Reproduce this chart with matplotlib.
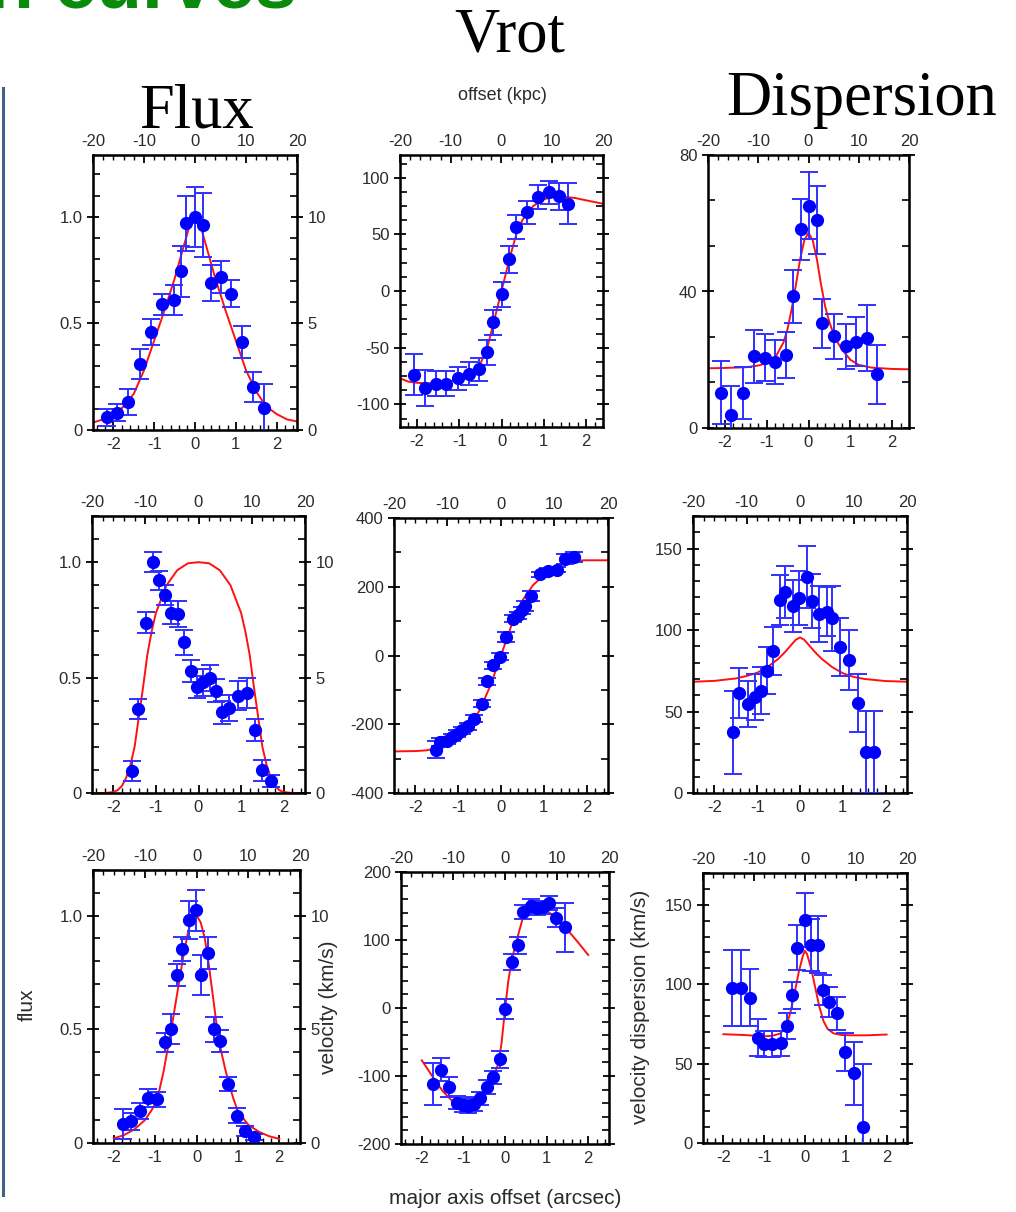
import matplotlib
matplotlib.use('Agg')
import matplotlib.pyplot as plt
from matplotlib.ticker import MultipleLocator, FixedLocator, FixedFormatter
from matplotlib.lines import Line2D

plt.rcParams['font.family'] = ['Liberation Sans', 'DejaVu Sans']
plt.rcParams['axes.unicode_minus'] = False

# ---------------- data: flux / rotation / dispersion profiles ----------------
# row 1
f1_x = [-2.16, -1.90, -1.63, -1.36, -1.08, -0.81, -0.52, -0.34, -0.22, 0.0, 0.19, 0.38, 0.64, 0.88, 1.14, 1.41, 1.70]
f1_y = [0.06, 0.08, 0.13, 0.31, 0.46, 0.59, 0.61, 0.745, 0.97, 1.0, 0.96, 0.69, 0.72, 0.64, 0.415, 0.20, 0.105]
f1_e = [0.04, 0.04, 0.06, 0.07, 0.06, 0.05, 0.07, 0.12, 0.13, 0.14, 0.15, 0.085, 0.075, 0.065, 0.075, 0.07, 0.11]
f1_mx = [-2.5, -2.25, -2.0, -1.75, -1.5, -1.25, -1.0, -0.75, -0.5, -0.25, -0.1, 0.0, 0.1, 0.25, 0.5, 0.75, 1.0, 1.25, 1.5, 1.75, 2.0, 2.25, 2.5]
f1_my = [0.035, 0.05, 0.07, 0.11, 0.17, 0.28, 0.42, 0.56, 0.71, 0.88, 0.98, 1.0, 0.98, 0.88, 0.71, 0.56, 0.42, 0.28, 0.18, 0.11, 0.075, 0.05, 0.04]

v1_x = [-2.08, -1.82, -1.55, -1.31, -1.04, -0.78, -0.53, -0.35, -0.20, 0.0, 0.18, 0.35, 0.61, 0.86, 1.12, 1.37, 1.57]
v1_y = [-74, -85.5, -82, -82, -77, -73, -69, -54, -27.5, -3, 28, 56.5, 69.5, 83, 87, 83.5, 77]
v1_e = [18, 16, 11, 11, 10, 10, 10, 11, 11, 11, 12, 11, 10, 10.5, 10.5, 12, 18]
v1_mx = [-2.4, -2.2, -2.0, -1.75, -1.5, -1.25, -1.0, -0.75, -0.5, -0.35, -0.2, -0.1, 0.0, 0.1, 0.2, 0.35, 0.5, 0.75, 1.0, 1.25, 1.5, 1.75, 2.0, 2.2, 2.4]
v1_my = [-77, -80, -81, -81.5, -81, -80, -78, -74, -64, -52, -30, -15, 0, 15, 30, 50, 63, 75, 81, 83, 83, 82, 80, 78.5, 77]

d1_x = [-2.10, -1.84, -1.56, -1.31, -1.05, -0.79, -0.53, -0.36, -0.18, 0.02, 0.20, 0.33, 0.60, 0.90, 1.13, 1.39, 1.64]
d1_y = [10.3, 3.7, 10.3, 21, 20.6, 19.3, 21.4, 38.6, 58.2, 65.2, 61, 30.7, 26.9, 23.9, 25.3, 26.3, 15.7]
d1_e = [9.2, 8.7, 7.7, 7.7, 6.8, 6.4, 6.7, 7.7, 9, 9.7, 9.9, 7.2, 6.6, 6.6, 7.1, 9.7, 8.7]
d1_mx = [-2.4, -2.0, -1.5, -1.2, -1.0, -0.8, -0.6, -0.5, -0.4, -0.3, -0.2, -0.1, 0.0, 0.1, 0.2, 0.3, 0.4, 0.5, 0.6, 0.7, 0.8, 0.9, 1.0, 1.2, 1.5, 2.0, 2.4]
d1_my = [17.5, 17.6, 17.8, 18.3, 19, 20.5, 25, 29, 35, 42, 49.5, 55, 57.2, 55, 49.5, 42, 35.5, 31, 27.5, 25, 23, 21.5, 20, 18.5, 17.7, 17.3, 17.2]

# row 2
f2_x = [-1.57, -1.42, -1.23, -1.06, -0.93, -0.78, -0.64, -0.48, -0.33, -0.18, -0.04, 0.11, 0.27, 0.41, 0.56, 0.71, 0.92, 1.13, 1.33, 1.49, 1.71]
f2_y = [0.095, 0.364, 0.738, 1.0, 0.921, 0.858, 0.781, 0.777, 0.652, 0.529, 0.46, 0.479, 0.498, 0.443, 0.35, 0.368, 0.422, 0.432, 0.273, 0.098, 0.052]
f2_e = [0.045, 0.045, 0.047, 0.043, 0.042, 0.043, 0.05, 0.056, 0.054, 0.047, 0.047, 0.058, 0.058, 0.05, 0.05, 0.058, 0.062, 0.065, 0.048, 0.045, 0.025]
f2_mx = [-2.5, -2.2, -2.0, -1.9, -1.8, -1.7, -1.6, -1.5, -1.4, -1.3, -1.2, -1.1, -1.0, -0.75, -0.5, -0.25, 0.0,
         0.25, 0.5, 0.75, 1.0, 1.1, 1.2, 1.3, 1.4, 1.5, 1.6, 1.7, 1.8, 1.9, 2.0, 2.2, 2.5]
f2_my = [0, 0, 0.004, 0.012, 0.03, 0.065, 0.12, 0.2, 0.33, 0.46, 0.6, 0.7, 0.78, 0.9, 0.965, 0.995, 1.0,
         0.995, 0.965, 0.9, 0.78, 0.7, 0.6, 0.46, 0.33, 0.2, 0.12, 0.065, 0.03, 0.012, 0.004, 0, 0]

v2_x = [-1.53, -1.42, -1.25, -1.14, -1.02, -0.91, -0.78, -0.62, -0.45, -0.32, -0.19, -0.02, 0.11, 0.27, 0.39, 0.49, 0.57, 0.70, 0.91, 1.10, 1.31, 1.50, 1.70]
v2_y = [-274, -251, -248, -238, -228, -218, -206, -184, -140, -75, -28, -4, 54, 107, 117, 131, 144, 173, 236, 246, 250, 280, 286]
v2_e = [24, 12, 10, 10, 10, 10, 10, 10, 10, 10, 10, 10, 15, 10, 10, 10, 15, 15, 8, 8, 8, 14, 14]
v2_mx = [-2.5, -2.25, -2.0, -1.75, -1.5, -1.25, -1.0, -0.75, -0.5, -0.25, 0.0, 0.25, 0.5, 0.75, 1.0, 1.25, 1.5, 1.75, 2.0, 2.25, 2.5]
v2_my = [-279, -278.5, -278, -276, -270, -253, -233, -205, -160, -88, 0, 90, 160, 205, 233, 253, 270, 276, 277, 277, 277]

d2_x = [-1.57, -1.43, -1.22, -1.05, -0.91, -0.78, -0.62, -0.47, -0.34, -0.17, -0.02, 0.16, 0.29, 0.45, 0.62, 0.74, 0.93, 1.14, 1.36, 1.55, 1.74]
d2_y = [37.3, 61.2, 54.7, 58.8, 62.9, 75.1, 87.3, 118.4, 123.5, 114.9, 119.6, 132.7, 118, 109.8, 111.2, 107.1, 89.4, 81.6, 55.1, 25.1, 25.1]
d2_e = [25.5, 15.3, 14.3, 14.3, 14.3, 14.5, 14.8, 15.3, 16, 15.8, 16.5, 19, 16.5, 17.3, 15, 20, 17.8, 18.4, 17.8, 25, 25]
d2_mx = [-2.5, -2.0, -1.5, -1.25, -1.0, -0.75, -0.5, -0.35, -0.2, -0.1, 0.0, 0.1, 0.2, 0.35, 0.5, 0.75, 1.0, 1.25, 1.5, 2.0, 2.5]
d2_my = [68.3, 68.8, 70.3, 71.8, 73.8, 77.5, 82.5, 86.5, 91, 94, 95.5, 94, 91, 86.5, 82.5, 77.3, 73.5, 71.3, 70, 68.7, 68.3]

# row 3
f3_x = [-1.78, -1.58, -1.37, -1.17, -0.95, -0.77, -0.62, -0.46, -0.34, -0.18, -0.02, 0.12, 0.28, 0.43, 0.57, 0.77, 0.97, 1.17, 1.39]
f3_y = [0.085, 0.095, 0.139, 0.198, 0.193, 0.442, 0.5, 0.739, 0.853, 0.981, 1.022, 0.739, 0.835, 0.5, 0.447, 0.261, 0.12, 0.051, 0.026]
f3_e = [0.066, 0.037, 0.035, 0.038, 0.033, 0.041, 0.066, 0.048, 0.054, 0.084, 0.088, 0.088, 0.07, 0.056, 0.048, 0.031, 0.033, 0.022, 0.015]
f3_mx = [-2.0, -1.75, -1.5, -1.25, -1.1, -1.0, -0.9, -0.8, -0.7, -0.6, -0.5, -0.4, -0.3, -0.2, -0.1, 0.0,
         0.1, 0.2, 0.3, 0.4, 0.5, 0.6, 0.7, 0.8, 0.9, 1.0, 1.25, 1.5, 1.75, 2.0]
f3_my = [0.02, 0.035, 0.06, 0.1, 0.14, 0.17, 0.23, 0.31, 0.41, 0.51, 0.62, 0.73, 0.84, 0.93, 0.985, 1.0,
         0.97, 0.9, 0.78, 0.64, 0.5, 0.4, 0.32, 0.25, 0.19, 0.14, 0.08, 0.05, 0.03, 0.018]

v3_x = [-1.73, -1.53, -1.35, -1.15, -1.0, -0.89, -0.74, -0.6, -0.44, -0.28, -0.12, 0.0, 0.16, 0.32, 0.44, 0.63, 0.77, 0.91, 1.05, 1.23, 1.45]
v3_y = [-112, -91, -116, -139, -143, -144, -141, -133, -116, -102, -75.5, -1.5, 68, 92, 141, 150, 147, 148, 154, 133, 119]
v3_e = [31, 17, 15, 10, 10, 10, 10, 10, 10, 10, 12, 15, 12, 12, 10, 10, 10, 10, 10, 14, 36]
v3_mx = [-2.0, -1.75, -1.5, -1.25, -1.0, -0.85, -0.7, -0.55, -0.4, -0.25, -0.15, -0.08, 0.0, 0.08, 0.16,
         0.25, 0.35, 0.45, 0.55, 0.75, 1.0, 1.25, 1.5, 1.75, 2.0]
v3_my = [-77, -100, -122, -138, -145, -145, -140, -128, -113, -97, -80, -50, -2, 40, 70,
         92, 115, 137, 144, 147, 143, 132, 115, 97, 78]

d3_x = [-1.80, -1.58, -1.36, -1.16, -1.0, -0.8, -0.59, -0.45, -0.33, -0.19, 0.0, 0.15, 0.33, 0.43, 0.59, 0.79, 0.99, 1.20, 1.41]
d3_y = [97.7, 97.7, 91.6, 66.3, 62.3, 62.3, 62.8, 73.6, 93.1, 123, 140.6, 124.5, 124.9, 96.2, 88.9, 81.6, 57.5, 43.9, 10]
d3_e = [24, 24, 18, 11.5, 8, 8, 8, 8, 8.5, 14, 17, 16.5, 17.8, 9.6, 9.4, 10.5, 12, 20, 40]
d3_mx = [-2.0, -1.5, -1.2, -1.0, -0.8, -0.6, -0.45, -0.35, -0.25, -0.15, -0.05, 0.0, 0.05, 0.15, 0.25,
         0.35, 0.45, 0.55, 0.7, 0.9, 1.2, 1.5, 2.0]
d3_my = [68.5, 68, 67.5, 67.2, 67.5, 69, 74, 83, 95, 108, 118, 121, 119, 110, 98,
         86, 77, 72, 69, 68, 67.8, 67.8, 68.3]

# tick labels
flux_ticks = [0, 0.5, 1.0]
flux_labels = ['0', '0.5', '1.0']
flux_right_labels = ['0', '5', '10']
arcsec_ticks = [-2, -1, 0, 1, 2]
kpc_ticks = [-20, -10, 0, 10, 20]

# ---------------- figure ----------------
W, H = 1016, 1212
fig = plt.figure(figsize=(W / 100, H / 100), dpi=100)
TXT = '#2b2b2b'
TICKFS = 12


def panel(box, xlim, ylim, yticks, ystep, x, y, err, mx, my, ylabels=None, right_labels=None):
    l, t, r, b = box
    ax = fig.add_axes([l / W, 1 - b / H, (r - l) / W, (b - t) / H])
    ax.plot(mx, my, color='#ff1010', lw=1.4, zorder=2)
    ax.errorbar(x, y, yerr=err, fmt='o', ms=8.5, mfc='#0000ff', mec='#0000ff',
                ecolor='#3030ff', elinewidth=1.4, capsize=6.5, capthick=1.4, zorder=3)
    ax.set_xlim(xlim)
    ax.set_ylim(ylim)
    for s in ax.spines.values():
        s.set_linewidth(1.8)

    ax.xaxis.set_major_locator(FixedLocator(arcsec_ticks))
    ax.xaxis.set_minor_locator(MultipleLocator(0.2))
    ax.yaxis.set_major_locator(FixedLocator(yticks))
    ax.yaxis.set_minor_locator(MultipleLocator(ystep))
    if ylabels is not None:
        ax.yaxis.set_major_formatter(FixedFormatter(ylabels))
    ax.tick_params(axis='x', which='major', direction='in', length=6, width=1.3,
                   top=False, labelsize=TICKFS, labelcolor=TXT, pad=5)
    ax.tick_params(axis='x', which='minor', direction='in', length=3.5, width=1, top=False)
    ax.tick_params(axis='y', which='major', direction='inout', length=9, width=1.3,
                   right=right_labels is None, labelsize=TICKFS, labelcolor=TXT, pad=3)
    ax.tick_params(axis='y', which='minor', direction='in', length=5, width=1.2,
                   right=right_labels is None)

    top = ax.twiny()
    top.set_xlim(-20, 20)
    top.xaxis.set_major_locator(FixedLocator(kpc_ticks))
    top.xaxis.set_minor_locator(MultipleLocator(2))
    top.tick_params(axis='x', which='major', direction='in', length=6, width=1.3,
                    labelsize=TICKFS, labelcolor=TXT, pad=4)
    top.tick_params(axis='x', which='minor', direction='in', length=3.5, width=1)

    if right_labels is not None:
        rax = ax.twinx()
        rax.set_ylim(ylim[0] * 10, ylim[1] * 10)
        rax.yaxis.set_major_locator(FixedLocator([v * 10 for v in yticks]))
        rax.yaxis.set_major_formatter(FixedFormatter(right_labels))
        rax.yaxis.set_minor_locator(MultipleLocator(ystep * 10))
        rax.tick_params(axis='y', which='major', direction='inout', length=9, width=1.3,
                        labelsize=TICKFS, labelcolor=TXT, pad=3)
        rax.tick_params(axis='y', which='minor', direction='in', length=5, width=1.2)
    return ax


# row 1
panel((93, 155, 297, 430), (-2.5, 2.5), (0, 1.29), flux_ticks, 0.1,
      f1_x, f1_y, f1_e, f1_mx, f1_my, flux_labels, flux_right_labels)
panel((400, 155, 603, 427), (-2.4, 2.4), (-120, 120), [-100, -50, 0, 50, 100], 12.5,
      v1_x, v1_y, v1_e, v1_mx, v1_my)
panel((708, 155, 909, 428), (-2.4, 2.4), (0, 80), [0, 40, 80], 40 / 3,
      d1_x, d1_y, d1_e, d1_mx, d1_my)

# row 2
panel((92, 516, 305, 793), (-2.5, 2.5), (0, 1.2), flux_ticks, 0.1,
      f2_x, f2_y, f2_e, f2_mx, f2_my, flux_labels, flux_right_labels)
panel((394, 518, 608, 793), (-2.5, 2.5), (-400, 400), [-400, -200, 0, 200, 400], 100,
      v2_x, v2_y, v2_e, v2_mx, v2_my)
panel((693, 516, 907, 793), (-2.5, 2.5), (0, 170), [0, 50, 100, 150], 10,
      d2_x, d2_y, d2_e, d2_mx, d2_my)

# row 3
panel((93, 870, 300, 1143), (-2.5, 2.5), (0, 1.2), flux_ticks, 0.1,
      f3_x, f3_y, f3_e, f3_mx, f3_my, flux_labels, flux_right_labels)
panel((401, 872, 609, 1144), (-2.5, 2.5), (-200, 200), [-200, -100, 0, 100, 200], 20,
      v3_x, v3_y, v3_e, v3_mx, v3_my)
panel((703, 873, 907, 1143), (-2.5, 2.5), (0, 170), [0, 50, 100, 150], 10,
      d3_x, d3_y, d3_e, d3_mx, d3_my)

# column headings and axis labels
serif = ['Liberation Serif', 'DejaVu Serif']
fig.text(197 / W, 1 - 127 / H, 'Flux', family=serif, fontsize=45, ha='center', va='baseline')
fig.text(510 / W, 1 - 52 / H, 'Vrot', family=serif, fontsize=45, ha='center', va='baseline')
fig.text(862 / W, 1 - 115 / H, 'Dispersion', family=serif, fontsize=45, ha='center', va='baseline')
fig.text(502 / W, 1 - 95 / H, 'offset (kpc)', fontsize=13, color=TXT, ha='center', va='center')

fig.text(27 / W, 1 - 1005 / H, 'flux', rotation=90, fontsize=15, color=TXT, ha='center', va='center')
fig.text(328 / W, 1 - 1007 / H, 'velocity (km/s)', rotation=90, fontsize=15, color=TXT,
         ha='center', va='center')
fig.text(640 / W, 1 - 1007 / H, 'velocity dispersion (km/s)', rotation=90, fontsize=15, color=TXT,
         ha='center', va='center')
fig.text(505 / W, 1 - 1199 / H, 'major axis offset (arcsec)', fontsize=15, color=TXT,
         ha='center', va='center')

# slide heading (runs off the top edge) and left border rule
fig.text(297 / W, 1 - 8 / H, 'Rotation curves', fontsize=54, weight='bold', color='#0a8a0a',
         ha='right', va='baseline')
fig.add_artist(Line2D([3 / W, 3 / W], [1 - 88 / H, 1 - 1195 / H], color='#41618a', lw=2.2))

fig.savefig('out.png', dpi=100)
